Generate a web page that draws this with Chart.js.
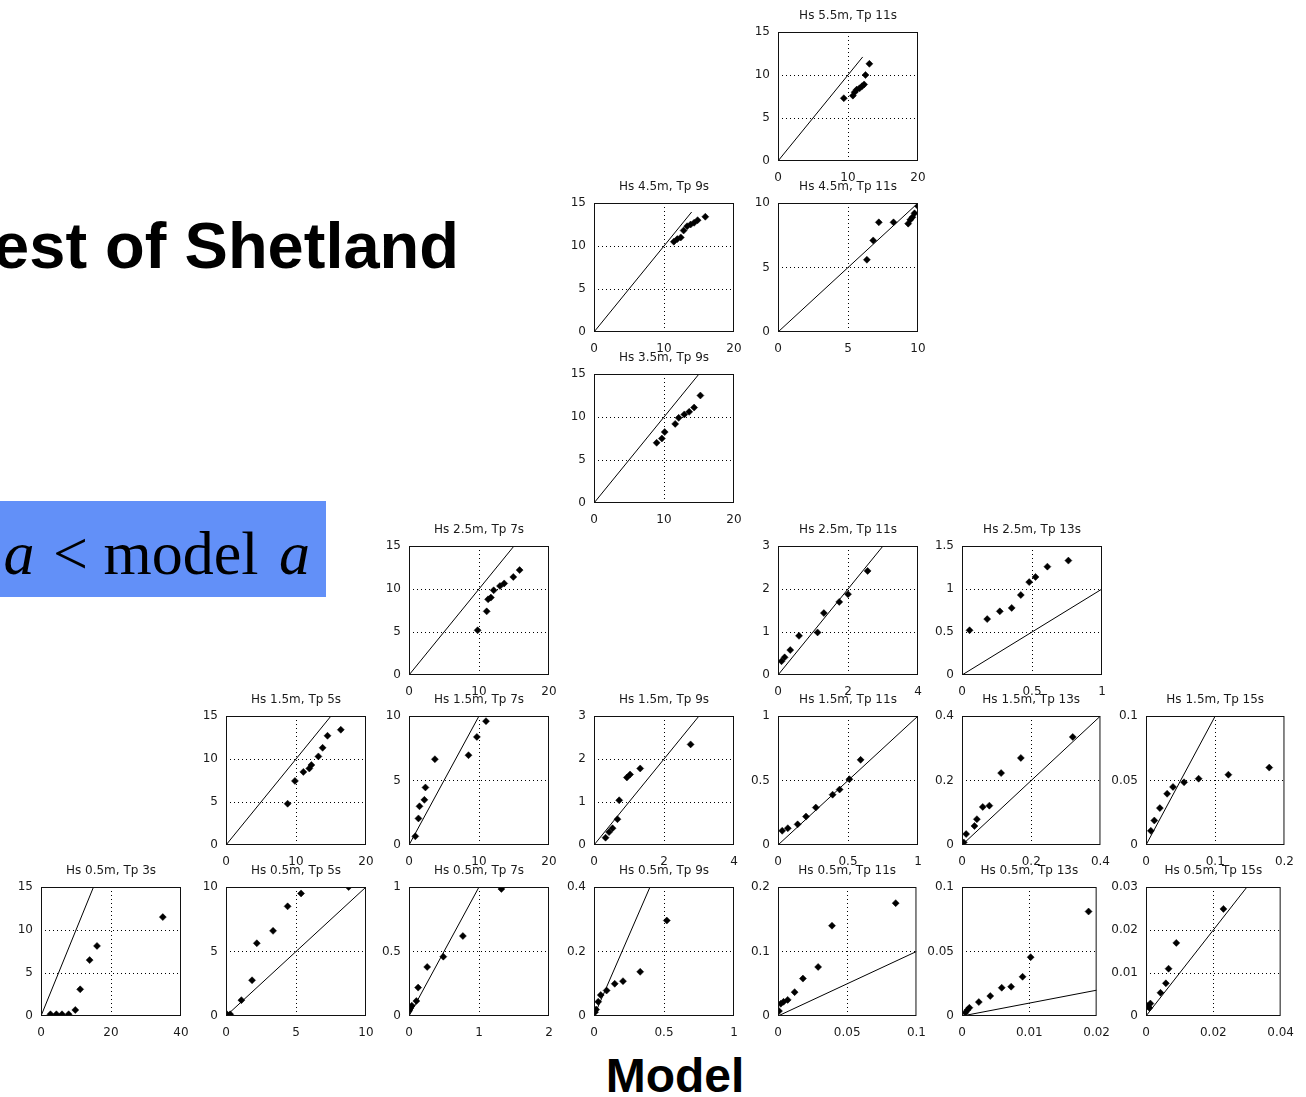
<!DOCTYPE html>
<html>
<head>
<meta charset="utf-8">
<script src="https://cdn.jsdelivr.net/npm/chart.js@4.4.0/dist/chart.umd.min.js"></script>
<style>
body { margin: 0; background: #fff; }
#page { position: relative; width: 1306px; height: 1097px; overflow: hidden; background: #fff; font-family: "Liberation Sans", Arial, sans-serif; }
#page canvas { position: absolute; }
.big { position: absolute; white-space: pre; line-height: 1; color: #000; }
</style>
</head>
<body>
<div id="page">
  <div class="big" style="right:847px; top:213px; font-size:65px; font-weight:bold;">est of Shetland</div>
  <div style="position:absolute; left:0; top:501px; width:326px; height:96px; background:#6290f8;"></div>
  <div class="big" style="right:996px; top:522px; font-family:'Liberation Serif','Times New Roman',serif; font-size:62px;"><i style="margin-right:3px">a</i> &lt; model <i style="margin-left:5px">a</i></div>
  <div class="big" style="left:575px; width:200px; text-align:center; top:1052px; font-size:48px; font-weight:bold;">Model</div>
</div>
<script>
const h55t11X = [9.4, 10.7, 10.95, 11.25, 11.65, 12.0, 12.3, 12.5, 13.05];
const h55t11Y = [7.3, 7.6, 8.0, 8.3, 8.45, 8.7, 8.9, 10.0, 11.3];
const h45t9X = [11.4, 11.9, 12.4, 12.8, 13.3, 13.8, 14.3, 14.8, 15.9];
const h45t9Y = [10.5, 10.8, 11.0, 11.8, 12.3, 12.5, 12.7, 13.0, 13.4];
const h45t11X = [6.35, 6.8, 7.2, 8.25, 9.3, 9.45, 9.6, 9.75, 10.0];
const h45t11Y = [5.6, 7.1, 8.5, 8.5, 8.4, 8.7, 8.9, 9.2, 9.75];
const h35t9X = [8.95, 9.7, 10.1, 11.6, 12.1, 12.9, 13.6, 14.3, 15.2];
const h35t9Y = [7.0, 7.5, 8.25, 9.2, 9.9, 10.3, 10.6, 11.1, 12.5];
const h25t7X = [9.8, 11.1, 11.3, 11.7, 12.1, 13.0, 13.6, 14.9, 15.8];
const h25t7Y = [5.2, 7.4, 8.8, 9.0, 9.85, 10.35, 10.65, 11.4, 12.2];
const h25t11X = [0.1, 0.19, 0.35, 0.6, 1.13, 1.31, 1.75, 2.0, 2.56];
const h25t11Y = [0.32, 0.41, 0.58, 0.91, 0.99, 1.44, 1.70, 1.88, 2.42];
const h25t13X = [0.054, 0.18, 0.27, 0.355, 0.42, 0.48, 0.525, 0.61, 0.76];
const h25t13Y = [0.52, 0.65, 0.74, 0.78, 0.93, 1.08, 1.14, 1.26, 1.33];
const h15t5X = [8.8, 9.85, 11.05, 11.9, 12.2, 13.2, 13.8, 14.5, 16.4];
const h15t5Y = [4.8, 7.45, 8.5, 8.9, 9.3, 10.3, 11.3, 12.7, 13.4];
const h15t7X = [0.9, 1.35, 1.5, 2.2, 2.35, 3.7, 8.5, 9.7, 11.0];
const h15t7Y = [0.67, 2.06, 3.0, 3.5, 4.46, 6.65, 6.96, 8.38, 9.6];
const h15t9X = [0.33, 0.43, 0.53, 0.67, 0.72, 0.94, 1.03, 1.32, 2.76];
const h15t9Y = [0.17, 0.3, 0.39, 0.6, 1.04, 1.57, 1.64, 1.78, 2.34];
const h15t11X = [0.03, 0.07, 0.14, 0.2, 0.27, 0.39, 0.44, 0.51, 0.59];
const h15t11Y = [0.11, 0.13, 0.16, 0.22, 0.29, 0.39, 0.43, 0.51, 0.66];
const h15t13X = [0.005, 0.012, 0.036, 0.043, 0.06, 0.079, 0.113, 0.17, 0.32];
const h15t13Y = [0.008, 0.034, 0.059, 0.08, 0.118, 0.122, 0.223, 0.27, 0.335];
const h15t15X = [0.007, 0.012, 0.02, 0.0305, 0.039, 0.055, 0.076, 0.119, 0.178];
const h15t15Y = [0.011, 0.019, 0.0286, 0.0397, 0.045, 0.0486, 0.0514, 0.0545, 0.06];
const h05t3X = [2.7, 4.4, 6.0, 7.9, 9.8, 11.2, 13.9, 16.0, 34.8];
const h05t3Y = [0.2, 0.2, 0.2, 0.2, 0.7, 3.1, 6.5, 8.15, 11.5];
const h05t5X = [0.07, 0.3, 1.1, 1.86, 2.2, 3.36, 4.4, 5.36, 8.76];
const h05t5Y = [0.13, 0.13, 1.23, 2.77, 5.64, 6.6, 8.5, 9.5, 10.0];
const h05t7X = [0.0, 0.015, 0.04, 0.105, 0.13, 0.26, 0.49, 0.77, 1.32];
const h05t7Y = [0.04, 0.06, 0.08, 0.116, 0.22, 0.38, 0.46, 0.62, 0.985];
const h05t9X = [0.007, 0.015, 0.03, 0.048, 0.09, 0.148, 0.207, 0.33, 0.52];
const h05t9Y = [0.012, 0.02, 0.044, 0.065, 0.079, 0.1, 0.108, 0.137, 0.296];
const h05t11X = [0.0007, 0.002, 0.004, 0.007, 0.012, 0.018, 0.029, 0.039, 0.085];
const h05t11Y = [0.0077, 0.019, 0.022, 0.025, 0.037, 0.058, 0.076, 0.14, 0.175];
const h05t13X = [0.0005, 0.0008, 0.0011, 0.0025, 0.0042, 0.0059, 0.0073, 0.009, 0.0102, 0.0188];
const h05t13Y = [0.0026, 0.0046, 0.0064, 0.0108, 0.0155, 0.0219, 0.0227, 0.0304, 0.0456, 0.081];
const h05t15X = [0.0004, 0.001, 0.0013, 0.0043, 0.0059, 0.0067, 0.009, 0.023];
const h05t15Y = [0.0023, 0.0019, 0.0029, 0.0054, 0.0076, 0.011, 0.017, 0.0249];

// Panel titles and axis ranges
const titles = ['Hs 5.5m, Tp 11s', 'Hs 4.5m, Tp 9s', 'Hs 4.5m, Tp 11s', 'Hs 3.5m, Tp 9s',
  'Hs 2.5m, Tp 7s', 'Hs 2.5m, Tp 11s', 'Hs 2.5m, Tp 13s',
  'Hs 1.5m, Tp 5s', 'Hs 1.5m, Tp 7s', 'Hs 1.5m, Tp 9s', 'Hs 1.5m, Tp 11s', 'Hs 1.5m, Tp 13s', 'Hs 1.5m, Tp 15s',
  'Hs 0.5m, Tp 3s', 'Hs 0.5m, Tp 5s', 'Hs 0.5m, Tp 7s', 'Hs 0.5m, Tp 9s', 'Hs 0.5m, Tp 11s', 'Hs 0.5m, Tp 13s', 'Hs 0.5m, Tp 15s'];
const xMax = [20, 20, 10, 20, 20, 4, 1, 20, 20, 4, 1, 0.4, 0.2, 40, 10, 2, 1, 0.1, 0.02, 0.04];
const yMax = [15, 15, 10, 15, 15, 3, 1.5, 15, 10, 3, 1, 0.4, 0.1, 15, 10, 1, 0.4, 0.2, 0.1, 0.03];
const yStep = [5, 5, 5, 5, 5, 1, 0.5, 5, 5, 1, 0.5, 0.2, 0.05, 5, 5, 0.5, 0.2, 0.1, 0.05, 0.01];
// where the y = x reference line stops
const lineEnd = [12.1, 13.95, 10, 15, 15, 3, 1, 15, 10, 3, 1, 0.4, 0.1, 15, 10, 1, 0.4, 0.1, 0.02, 0.03];

const seriesX = [h55t11X, h45t9X, h45t11X, h35t9X, h25t7X, h25t11X, h25t13X,
  h15t5X, h15t7X, h15t9X, h15t11X, h15t13X, h15t15X,
  h05t3X, h05t5X, h05t7X, h05t9X, h05t11X, h05t13X, h05t15X];
const seriesY = [h55t11Y, h45t9Y, h45t11Y, h35t9Y, h25t7Y, h25t11Y, h25t13Y,
  h15t5Y, h15t7Y, h15t9Y, h15t11Y, h15t13Y, h15t15Y,
  h05t3Y, h05t5Y, h05t7Y, h05t9Y, h05t11Y, h05t13Y, h05t15Y];

// Layout: row / column of each panel on the page
const panelRow = [0, 1, 1, 2, 3, 3, 3, 4, 4, 4, 4, 4, 4, 5, 5, 5, 5, 5, 5, 5];
const panelCol = [4, 3, 4, 3, 2, 4, 5, 1, 2, 3, 4, 5, 6, 0, 1, 2, 3, 4, 5, 6];
const colLeft = [41, 226, 409, 594, 778, 962, 1146];
const rowTop = [32, 203, 374, 546, 716, 887];

const AXIS_W = 36, PAD_TOP = 28, PAD_RIGHT = 18, AXIS_H = 26;
const PLOT_W = 140, PLOT_H = 129;
const FONT = '"DejaVu Sans", Verdana, sans-serif';

Chart.defaults.font.family = FONT;
Chart.defaults.font.size = 12;
Chart.defaults.color = '#1a1a1a';

// box round the plot and the title above it
const boxTitle = {
  id: 'boxTitle',
  afterDraw(chart, args, opts) {
    const ctx = chart.ctx;
    const a = chart.chartArea;
    ctx.save();
    ctx.strokeStyle = '#111';
    ctx.lineWidth = 1;
    ctx.strokeRect(a.left + 0.5, a.top + 0.5, a.width - 1, a.height - 1);
    ctx.fillStyle = '#1a1a1a';
    ctx.font = '12px ' + FONT;
    ctx.textAlign = 'center';
    ctx.textBaseline = 'middle';
    ctx.fillText(opts.text, (a.left + a.right) / 2, a.top - 16);
    ctx.restore();
  }
};

const innerGrid = c => (c.index > 0 && c.index < c.scale.ticks.length - 1) ? '#000' : 'rgba(0,0,0,0)';
const fmt = v => String(+Number(v).toFixed(4));

const page = document.getElementById('page');

titles.forEach((title, i) => {
  const canvas = document.createElement('canvas');
  canvas.width = AXIS_W + PLOT_W + PAD_RIGHT;
  canvas.height = PAD_TOP + PLOT_H + AXIS_H;
  canvas.style.left = (colLeft[panelCol[i]] - AXIS_W) + 'px';
  canvas.style.top = (rowTop[panelRow[i]] - PAD_TOP) + 'px';
  page.appendChild(canvas);

  const points = seriesX[i].map((x, k) => ({ x: x, y: seriesY[i][k] }));

  new Chart(canvas, {
    type: 'scatter',
    data: {
      datasets: [{
        data: points,
        pointStyle: 'rectRot',
        pointRadius: 3.5,
        borderWidth: 0.5,
        backgroundColor: '#000',
        borderColor: '#000'
      }, {
        data: [{ x: 0, y: 0 }, { x: lineEnd[i], y: lineEnd[i] }],
        showLine: true,
        pointRadius: 0,
        borderColor: '#000',
        borderWidth: 1
      }]
    },
    options: {
      responsive: false,
      animation: false,
      devicePixelRatio: 1,
      layout: { padding: { top: PAD_TOP, right: PAD_RIGHT, left: 0, bottom: 0 } },
      plugins: {
        legend: { display: false },
        tooltip: { enabled: false },
        boxTitle: { text: title }
      },
      scales: {
        x: {
          type: 'linear', min: 0, max: xMax[i],
          afterFit: s => { s.height = AXIS_H; },
          ticks: { stepSize: xMax[i] / 2, autoSkip: false, maxRotation: 0, padding: 10, callback: fmt },
          grid: { color: innerGrid, drawTicks: false, lineWidth: 1 },
          border: { display: false, dash: [1, 3] }
        },
        y: {
          type: 'linear', min: 0, max: yMax[i],
          afterFit: s => { s.width = AXIS_W; },
          ticks: { stepSize: yStep[i], autoSkip: false, padding: 8, callback: fmt },
          grid: { color: innerGrid, drawTicks: false, lineWidth: 1 },
          border: { display: false, dash: [1, 3] }
        }
      }
    },
    plugins: [boxTitle]
  });
});
</script>
</body>
</html>
